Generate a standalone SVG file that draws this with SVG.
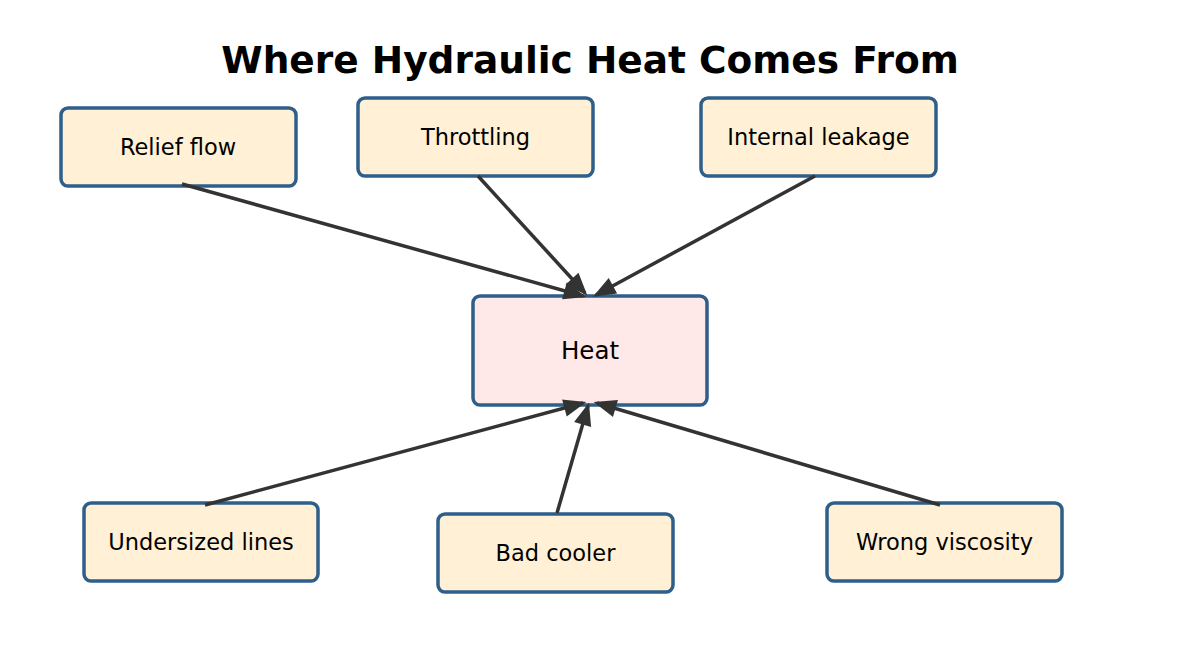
<svg xmlns="http://www.w3.org/2000/svg" width="1179" height="659" viewBox="0 0 1179 659">
<style>
.n rect{fill:#fff0d6;stroke:#2e5f8a;stroke-width:3.5}
.n text{font-family:"DejaVu Sans",sans-serif;font-size:22.5px;fill:#000;text-anchor:middle;dominant-baseline:central}
#heat rect{fill:#ffe8e8}
#heat text{font-size:24.5px}
.c line{stroke:#333;stroke-width:3.5;fill:none}
</style>
<defs>
<marker id="ah" viewBox="0 0 20 15" refX="18" refY="7.5" markerWidth="20" markerHeight="15" markerUnits="userSpaceOnUse" orient="auto" overflow="visible">
<path d="M0,0.5 L18,7.5 L0,14.5 z" fill="#333" stroke="#333" stroke-width="2.5" stroke-linejoin="miter"/>
</marker>
</defs>
<rect width="1179" height="659" fill="#fff"/>
<text x="590" y="60" font-family="DejaVu Sans,sans-serif" font-weight="bold" font-size="37.5" text-anchor="middle" dominant-baseline="central">Where Hydraulic Heat Comes From</text>
<g id="relief" class="n"><rect x="61" y="108" width="235" height="78" rx="7"/><text x="178" y="147">Relief flow</text></g>
<g id="throttling" class="n"><rect x="358" y="98" width="235" height="78" rx="7"/><text x="475.5" y="137">Throttling</text></g>
<g id="leakage" class="n"><rect x="701" y="98" width="235" height="78" rx="7"/><text x="818.5" y="137">Internal leakage</text></g>
<g id="heat" class="n"><rect x="473" y="296" width="234" height="109" rx="7"/><text x="590" y="350.5">Heat</text></g>
<g id="undersized" class="n"><rect x="84" y="503" width="234" height="78" rx="7"/><text x="201" y="542">Undersized lines</text></g>
<g id="cooler" class="n"><rect x="438" y="514" width="235" height="78" rx="7"/><text x="555.5" y="553">Bad cooler</text></g>
<g id="viscosity" class="n"><rect x="827" y="503" width="235" height="78" rx="7"/><text x="944.5" y="542">Wrong viscosity</text></g>
<g class="c">
<line x1="182" y1="184" x2="583" y2="296" marker-end="url(#ah)"/>
<line x1="478" y1="176" x2="585" y2="293" marker-end="url(#ah)"/>
<line x1="815" y1="176" x2="596" y2="295" marker-end="url(#ah)"/>
<line x1="205" y1="505" x2="583" y2="403" marker-end="url(#ah)"/>
<line x1="557" y1="513" x2="588" y2="406" marker-end="url(#ah)"/>
<line x1="940" y1="505" x2="597" y2="403" marker-end="url(#ah)"/>
</g>
</svg>
